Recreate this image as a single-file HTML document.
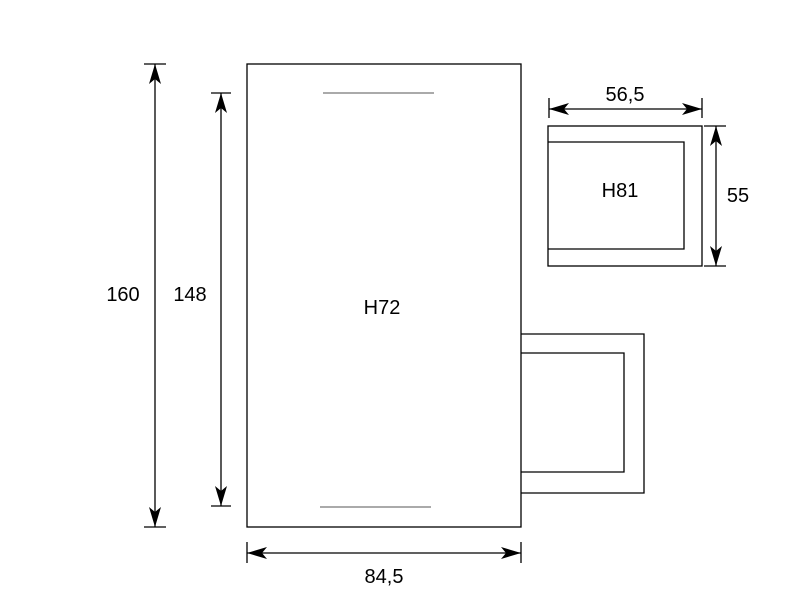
<!DOCTYPE html>
<html><head><style>body{margin:0;background:#fff}svg{display:block}</style></head>
<body>
<svg width="802" height="611" xmlns="http://www.w3.org/2000/svg" font-family="Liberation Sans, Arial, sans-serif">
<defs>
<marker id="a" viewBox="0 0 20 12" refX="20" refY="6" markerWidth="20" markerHeight="12" markerUnits="userSpaceOnUse" orient="auto-start-reverse">
<path d="M0,0 L20,6 L0,12 L5,6 Z" fill="#000"/>
</marker>
</defs>
<g fill="none" stroke="#000" stroke-width="1.3">
<rect x="247" y="64" width="274" height="463"/>
<path d="M521,334 H644 V493 H521"/>
<path d="M521,353 H624 V472 H521"/>
<rect x="548" y="126" width="154" height="140"/>
<path d="M548,142 H684 V249 H548"/>
<path d="M144,64 H166 M144,527 H166 M211,93 H231 M211,506 H231 M247,542 V563 M521,542 V563 M549,98 V118 M702,98 V118 M704,126 H726 M704,266 H726"/>
<line x1="155" y1="64" x2="155" y2="527" marker-start="url(#a)" marker-end="url(#a)"/>
<line x1="221" y1="93" x2="221" y2="506" marker-start="url(#a)" marker-end="url(#a)"/>
<line x1="247" y1="553" x2="521" y2="553" marker-start="url(#a)" marker-end="url(#a)"/>
<line x1="549" y1="109" x2="702" y2="109" marker-start="url(#a)" marker-end="url(#a)"/>
<line x1="716" y1="126" x2="716" y2="266" marker-start="url(#a)" marker-end="url(#a)"/>
</g>
<g stroke="#555" stroke-width="1">
<line x1="323" y1="93" x2="434" y2="93"/>
<line x1="320" y1="507" x2="431" y2="507"/>
</g>
<g font-size="20" fill="#000" text-anchor="middle">
<text x="123" y="301">160</text>
<text x="190" y="301">148</text>
<text x="382" y="314">H72</text>
<text x="384" y="583">84,5</text>
<text x="625" y="101">56,5</text>
<text x="620" y="197">H81</text>
<text x="738" y="202">55</text>
</g>
</svg>
</body></html>
